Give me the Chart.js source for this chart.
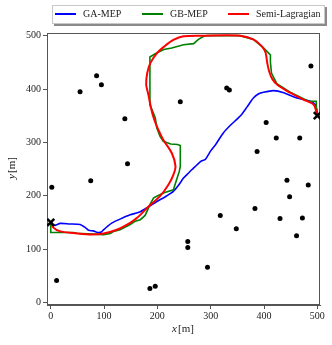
<!DOCTYPE html>
<html>
<head>
<meta charset="utf-8">
<script src="https://cdn.jsdelivr.net/npm/chart.js@4"></script>
<style>
  html, body { margin: 0; padding: 0; background: #fff; }
  canvas { display: block; }
</style>
</head>
<body>
<canvas id="path-chart" width="332" height="345"></canvas>
<script>
// 路径数据 (x, y) [m]
const gaMep = [
    [0, 152], [5, 144], [18, 148], [35, 147], [55, 146], [65, 140], [71, 135], [80, 134],
    [85, 132], [90, 131], [95, 132], [99, 136], [107, 143], [115, 149], [130, 156], [149, 164],
    [168, 170], [185, 180], [199, 189], [215, 198], [230, 208], [240, 220], [249, 233], [257, 241],
    [265, 249], [281, 264], [290, 268], [300, 284], [310, 297], [324, 318], [337, 332], [349, 343],
    [358, 352], [368, 366], [380, 383], [390, 391], [399, 394], [418, 397], [437, 393], [462, 383],
    [487, 377], [496, 371], [499, 362], [500, 350]
];
const gbMep = [
    [0, 152], [0, 131], [43, 131], [49, 129.5], [99, 127], [112, 129], [118, 133], [130, 136],
    [149, 146], [158, 152], [168, 155], [177, 163], [187, 185], [193, 196], [211, 205], [230, 211],
    [236, 230], [241, 245], [243, 255], [243, 294], [238, 296], [225, 297], [211, 302], [205, 311],
    [199, 327], [196, 346], [190, 361], [186, 370], [186, 460], [196, 466], [212, 474], [227, 477],
    [249, 483], [268, 485], [277, 493], [287, 499], [293, 500], [355, 500], [380, 493], [399, 477],
    [412, 464], [412, 450], [414, 430], [424, 410], [449, 394], [474, 382], [483, 377], [498, 377],
    [498, 358], [500, 350]
];
const semiLagrangian = [
    [0, 152], [5, 140], [18, 133], [43, 130], [77, 127], [99, 129], [124, 136], [149, 149],
    [160, 157], [168, 164], [187, 183], [205, 199], [221, 221], [230, 239], [234, 255], [227, 280],
    [211, 305], [199, 330], [193, 346], [188, 365], [183, 390], [179, 408], [181, 430], [187, 449],
    [200, 468], [212, 479], [230, 492], [249, 499], [287, 500], [355, 500], [380, 493], [396, 480],
    [403, 468], [406, 449], [410, 432], [416, 418], [426, 407], [449, 393], [474, 380], [493, 371],
    [498, 358], [500, 350]
];
// 障碍物
const obstacles = [
    [55, 395], [86, 425], [95, 408], [139, 344], [243, 376], [330, 402], [335, 398], [488, 443],
    [404, 337], [423, 308], [467, 308], [387, 283], [144, 260], [75, 228], [2, 216], [443, 229],
    [483, 220], [448, 198], [383, 176], [318, 163], [430, 157], [472, 158], [348, 138], [461, 125],
    [257, 114], [257, 103], [294, 66], [11, 41], [186, 26], [196, 30]
];
// 起点和终点
const endpoints = [[0, 150], [500, 350]];

const seriesNames = ['GA-MEP', 'GB-MEP', 'Semi-Lagragian'];
const seriesColors = ['#0000ff', '#008000', '#ff0000'];
const xTicks = [0, 100, 200, 300, 400, 500];
const yTicks = [0, 100, 200, 300, 400, 500];

const serif = "'Liberation Serif', 'DejaVu Serif', serif";
const toPts = arr => arr.map(p => ({ x: p[0], y: p[1] }));

// 边框、图例和坐标轴标题
const decorPlugin = {
    id: 'decor',
    beforeDatasetsDraw(chart) {
        const ctx = chart.ctx;
        const a = chart.chartArea;
        ctx.save();
        ctx.strokeStyle = '#555';
        ctx.lineWidth = 1;
        ctx.strokeRect(Math.round(a.left) + 0.5, Math.round(a.top) + 0.5,
            Math.round(a.right - a.left) - 1, Math.round(a.bottom - a.top) - 1);
        ctx.restore();
    },
    afterDraw(chart) {
        const ctx = chart.ctx;
        ctx.save();
        // legend box with shadow
        const bx = 52, by = 5, bw = 273, bh = 19;
        ctx.fillStyle = '#8a8a8a';
        ctx.fillRect(bx + 2, by + 2, bw, bh);
        ctx.fillStyle = '#fff';
        ctx.fillRect(bx, by, bw, bh);
        ctx.strokeStyle = '#c8c8c8';
        ctx.lineWidth = 1;
        ctx.strokeRect(bx + 0.5, by + 0.5, bw - 1, bh - 1);
        const lineX = [55, 142, 228];
        ctx.font = '10px ' + serif;
        ctx.textBaseline = 'middle';
        seriesNames.forEach((name, i) => {
            ctx.strokeStyle = seriesColors[i];
            ctx.lineWidth = 2;
            ctx.beginPath();
            ctx.moveTo(lineX[i], 14);
            ctx.lineTo(lineX[i] + 21, 14);
            ctx.stroke();
            ctx.fillStyle = '#222';
            ctx.fillText(name, lineX[i] + 28, 14.5);
        });
        // axis titles: italic variable + upright unit
        const drawTitle = (v, cx, cy, rot) => {
            ctx.save();
            ctx.translate(cx, cy);
            ctx.rotate(rot);
            ctx.font = 'italic 11px ' + serif;
            const w1 = ctx.measureText(v).width;
            ctx.font = '11px ' + serif;
            const w2 = ctx.measureText('[m]').width;
            let x0 = -(w1 + w2 + 1) / 2;
            ctx.fillStyle = '#222';
            ctx.textBaseline = 'middle';
            ctx.font = 'italic 11px ' + serif;
            ctx.fillText(v, x0, 0);
            ctx.font = '11px ' + serif;
            ctx.fillText('[m]', x0 + w1 + 1, 0);
            ctx.restore();
        };
        drawTitle('x', 183, 329, 0);
        drawTitle('y', 12, 168, -Math.PI / 2);
        ctx.restore();
    }
};

function lineSet(label, data, color, width, order, tension) {
    return {
        label: label,
        data: toPts(data),
        showLine: true,
        borderColor: color,
        backgroundColor: color,
        borderWidth: width,
        pointRadius: 0,
        tension: tension,
        order: order
    };
}

const tickFont = { family: serif, size: 10 };

new Chart(document.getElementById('path-chart'), {
    type: 'scatter',
    data: {
        datasets: [
            lineSet(seriesNames[0], gaMep, seriesColors[0], 1.6, 3, 0.2),
            lineSet(seriesNames[1], gbMep, seriesColors[1], 1.6, 2, 0),
            lineSet(seriesNames[2], semiLagrangian, seriesColors[2], 2, 1, 0.3),
            {
                label: 'obstacles',
                data: toPts(obstacles),
                pointRadius: 2.5,
                backgroundColor: '#000',
                borderColor: '#000',
                borderWidth: 0,
                order: 4
            },
            {
                label: 'endpoints',
                data: toPts(endpoints),
                pointStyle: 'crossRot',
                pointRadius: 5,
                borderWidth: 2.5,
                borderColor: '#000',
                backgroundColor: '#000',
                order: 0
            }
        ]
    },
    options: {
        responsive: false,
        animation: false,
        devicePixelRatio: 1,
        layout: { padding: { top: 33, right: 12, left: 0, bottom: 0 } },
        plugins: {
            legend: { display: false },
            tooltip: { enabled: false }
        },
        scales: {
            x: {
                type: 'linear',
                min: -7,
                max: 505,
                afterBuildTicks: s => { s.ticks = xTicks.map(v => ({ value: v })); },
                afterFit: s => { s.height = 40; },
                ticks: { font: tickFont, color: '#222', padding: 1, maxRotation: 0, autoSkip: false },
                grid: { drawOnChartArea: false, tickLength: 4, color: '#555' },
                border: { color: '#555' }
            },
            y: {
                type: 'linear',
                min: -5,
                max: 505,
                afterBuildTicks: s => { s.ticks = yTicks.map(v => ({ value: v })); },
                afterFit: s => { s.width = 47; },
                ticks: { font: tickFont, color: '#222', padding: 2, autoSkip: false },
                grid: { drawOnChartArea: false, tickLength: 4, color: '#555' },
                border: { color: '#555' }
            }
        }
    },
    plugins: [decorPlugin]
});
</script>
</body>
</html>
